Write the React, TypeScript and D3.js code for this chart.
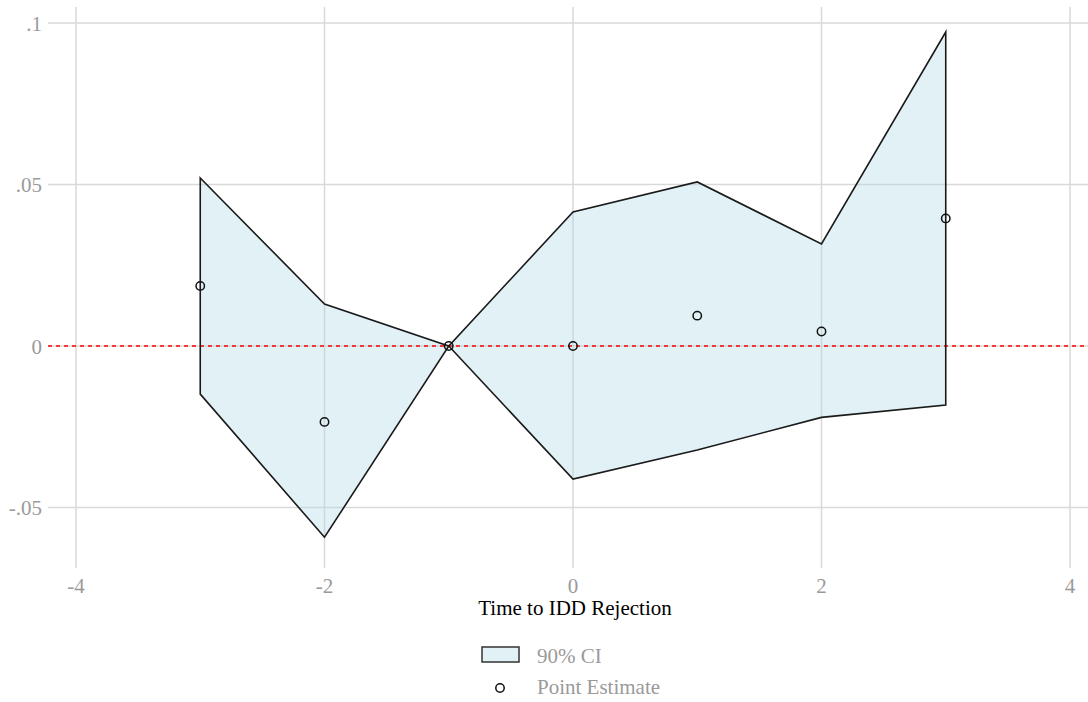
import React from "react";
import * as d3 from "d3";

// Event-time periods relative to the IDD rejection
const periods = [-3, -2, -1, 0, 1, 2, 3];
// Point estimates and 90% confidence bounds
const estimates = [0.0186, -0.0235, 0, 0, 0.0094, 0.0045, 0.0395];
const upperCI = [0.052, 0.013, 0, 0.0415, 0.0508, 0.0316, 0.0972];
const lowerCI = [-0.0149, -0.0592, 0, -0.0412, -0.0322, -0.0221, -0.0183];

const xTicks = [-4, -2, 0, 2, 4];
const yTicks = [0.1, 0.05, 0, -0.05];
const yTickLabels = [".1", ".05", "0", "-.05"];

const W = 1088;
const H = 702;
const FONT = "'Liberation Serif', 'Times New Roman', serif";

export default function App() {
  const left = 48;
  const right = 1088;
  const top = 7;
  const bottom = 568;

  const x = d3.scaleLinear().domain([-4, 4]).range([76, 1070]);
  const y = d3.scaleLinear().domain([0, 0.1]).range([346, 23]);

  const rows = periods.map((p, i) => ({ p, est: estimates[i], lo: lowerCI[i], hi: upperCI[i] }));

  const band = d3
    .area<(typeof rows)[number]>()
    .x((d) => x(d.p))
    .y0((d) => y(d.lo))
    .y1((d) => y(d.hi));

  // Closed outline: upper edge, then lower edge reversed
  const outline = d3.line<[number, number]>()([
    ...rows.map((d) => [x(d.p), y(d.hi)] as [number, number]),
    ...rows
      .slice()
      .reverse()
      .map((d) => [x(d.p), y(d.lo)] as [number, number]),
  ]) + "Z";

  const grid = "#d9d9d9";
  const tickColor = "#9a9a9a";
  const fs = 21;

  return (
    <svg width={W} height={H} style={{ position: "absolute", left: 0, top: 0, background: "#fff" }} fontFamily={FONT}>
      {/* grid */}
      {yTicks.map((t) => (
        <line key={"gy" + t} x1={left} x2={right} y1={y(t)} y2={y(t)} stroke={grid} strokeWidth={1.5} />
      ))}
      {xTicks.map((t) => (
        <line key={"gx" + t} x1={x(t)} x2={x(t)} y1={top} y2={bottom} stroke={grid} strokeWidth={1.5} />
      ))}

      {/* confidence band */}
      <path d={band(rows) ?? ""} fill="#ADD8E6" fillOpacity={0.36} stroke="none" />

      {/* zero reference */}
      <line x1={left} x2={right} y1={y(0)} y2={y(0)} stroke="#ff0000" strokeWidth={1.3} strokeDasharray="4 4" />

      <path d={outline} fill="none" stroke="#1a1a1a" strokeWidth={1.6} strokeLinejoin="miter" />

      {/* point estimates */}
      {rows.map((d) => (
        <circle key={"pt" + d.p} cx={x(d.p)} cy={y(d.est)} r={4.2} fill="none" stroke="#111" strokeWidth={1.5} />
      ))}

      {/* y tick labels */}
      {yTicks.map((t, i) => (
        <text key={"yl" + t} x={42} y={y(t) + 7.5} textAnchor="end" fontSize={fs} fill={tickColor}>
          {yTickLabels[i]}
        </text>
      ))}

      {/* x tick labels */}
      {xTicks.map((t) => (
        <text key={"xl" + t} x={x(t)} y={593} textAnchor="middle" fontSize={fs} fill={tickColor}>
          {t}
        </text>
      ))}

      <text x={575} y={615} textAnchor="middle" fontSize={fs} fill="#000">
        Time to IDD Rejection
      </text>

      {/* legend */}
      <rect x={482} y={647} width={37} height={15} fill="#ADD8E6" fillOpacity={0.36} stroke="#333" strokeWidth={1.5} />
      <text x={537} y={663} fontSize={fs} fill={tickColor}>
        90% CI
      </text>
      <circle cx={500} cy={688} r={4.2} fill="none" stroke="#111" strokeWidth={1.5} />
      <text x={537} y={694} fontSize={fs} fill={tickColor}>
        Point Estimate
      </text>
    </svg>
  );
}
